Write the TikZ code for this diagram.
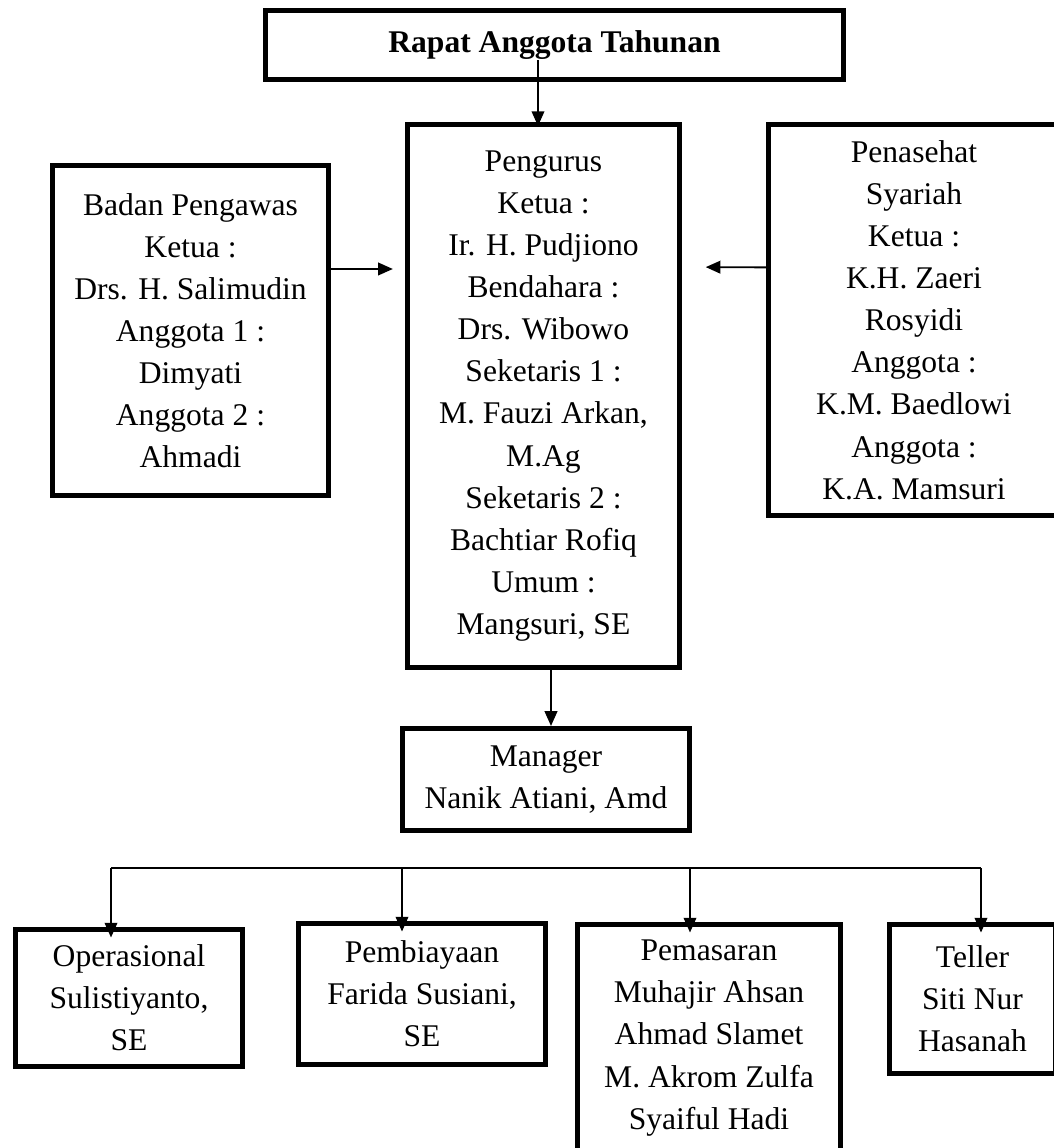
\documentclass[tikz,border=0pt]{standalone}
\usepackage{fontspec}
\setmainfont{Liberation Serif}
\usetikzlibrary{arrows.meta, positioning}

\begin{document}
\begin{tikzpicture}[
  x=0.38pt, y=-0.38pt,
  font=\fontsize{12}{16}\selectfont,
  box/.style={draw, line width=1.9pt, align=center, inner sep=0pt},
  link/.style={-{Triangle[length=5.6pt, width=4.8pt]}, line width=.7pt}]

  \useasboundingbox (0,0) rectangle (1054,1148);

  \node[box, minimum width=219.6pt, minimum height=26.2pt] (rat) at (554.5,45) {\textbf{Rapat Anggota Tahunan}};
  \node[box, minimum width=103.4pt, minimum height=206.3pt] (peng) at (543.5,396)
    {Pengurus\\Ketua :\\Ir. H. Pudjiono\\Bendahara :\\Drs. Wibowo\\Seketaris 1 :\\M. Fauzi Arkan,\\M.Ag\\Seketaris 2 :\\Bachtiar Rofiq\\Umum :\\Mangsuri, SE};
  \node[box, minimum width=104.9pt, minimum height=125.4pt] (bp) at (190.5,330.5)
    {Badan Pengawas\\Ketua :\\Drs. H. Salimudin\\Anggota 1 :\\Dimyati\\Anggota 2 :\\Ahmadi};
  \node[box, minimum width=110.6pt, minimum height=148.6pt] (ps) at (914,320)
    {Penasehat\\Syariah\\Ketua :\\K.H. Zaeri\\Rosyidi\\Anggota :\\K.M. Baedlowi\\Anggota :\\K.A. Mamsuri};
  \node[box, minimum width=109.1pt, minimum height=38.8pt] (mgr) at (546,779.5)
    {Manager\\Nanik Atiani, Amd};

  \node[box, minimum width=86.3pt, minimum height=52.1pt] (ops) at (129,998)
    {Operasional\\Sulistiyanto,\\SE};
  \node[box, minimum width=93.9pt, minimum height=53.6pt] (pby) at (422,994)
    {Pembiayaan\\Farida Susiani,\\SE};
  \node[box, minimum width=99.9pt, minimum height=86.3pt] (pms) at (709,1038)
    {Pemasaran\\Muhajir Ahsan\\Ahmad Slamet\\M. Akrom Zulfa\\Syaiful Hadi};
  \node[box, minimum width=63.1pt, minimum height=56.6pt] (tel) at (972.5,999)
    {Teller\\Siti Nur\\Hasanah};

  % upper links
  \draw[link] (538,60) -- ([yshift=-1.5pt]538,0 |- peng.north);
  \draw[link, shorten >=4.6pt] ([yshift=23.4pt]bp.east) -- (peng.west |- 0,269);
  \draw[link, shorten >=9pt] ([yshift=20pt]ps.west) -- (peng.east |- 0,267);
  \draw[link] (551,0 |- peng.south) -- (551,0 |- mgr.north);

  % staff bar
  \coordinate (barL) at (111,868);
  \coordinate (barR) at (981,868);
  \draw[line width=.7pt] (barL) -- (barR);
  \foreach \x/\n in {111/ops, 402/pby, 690/pms, 981/tel}
    \draw[link] (\x,868) -- ([yshift=-4pt]\x,0 |- \n.north);
\end{tikzpicture}
\end{document}
